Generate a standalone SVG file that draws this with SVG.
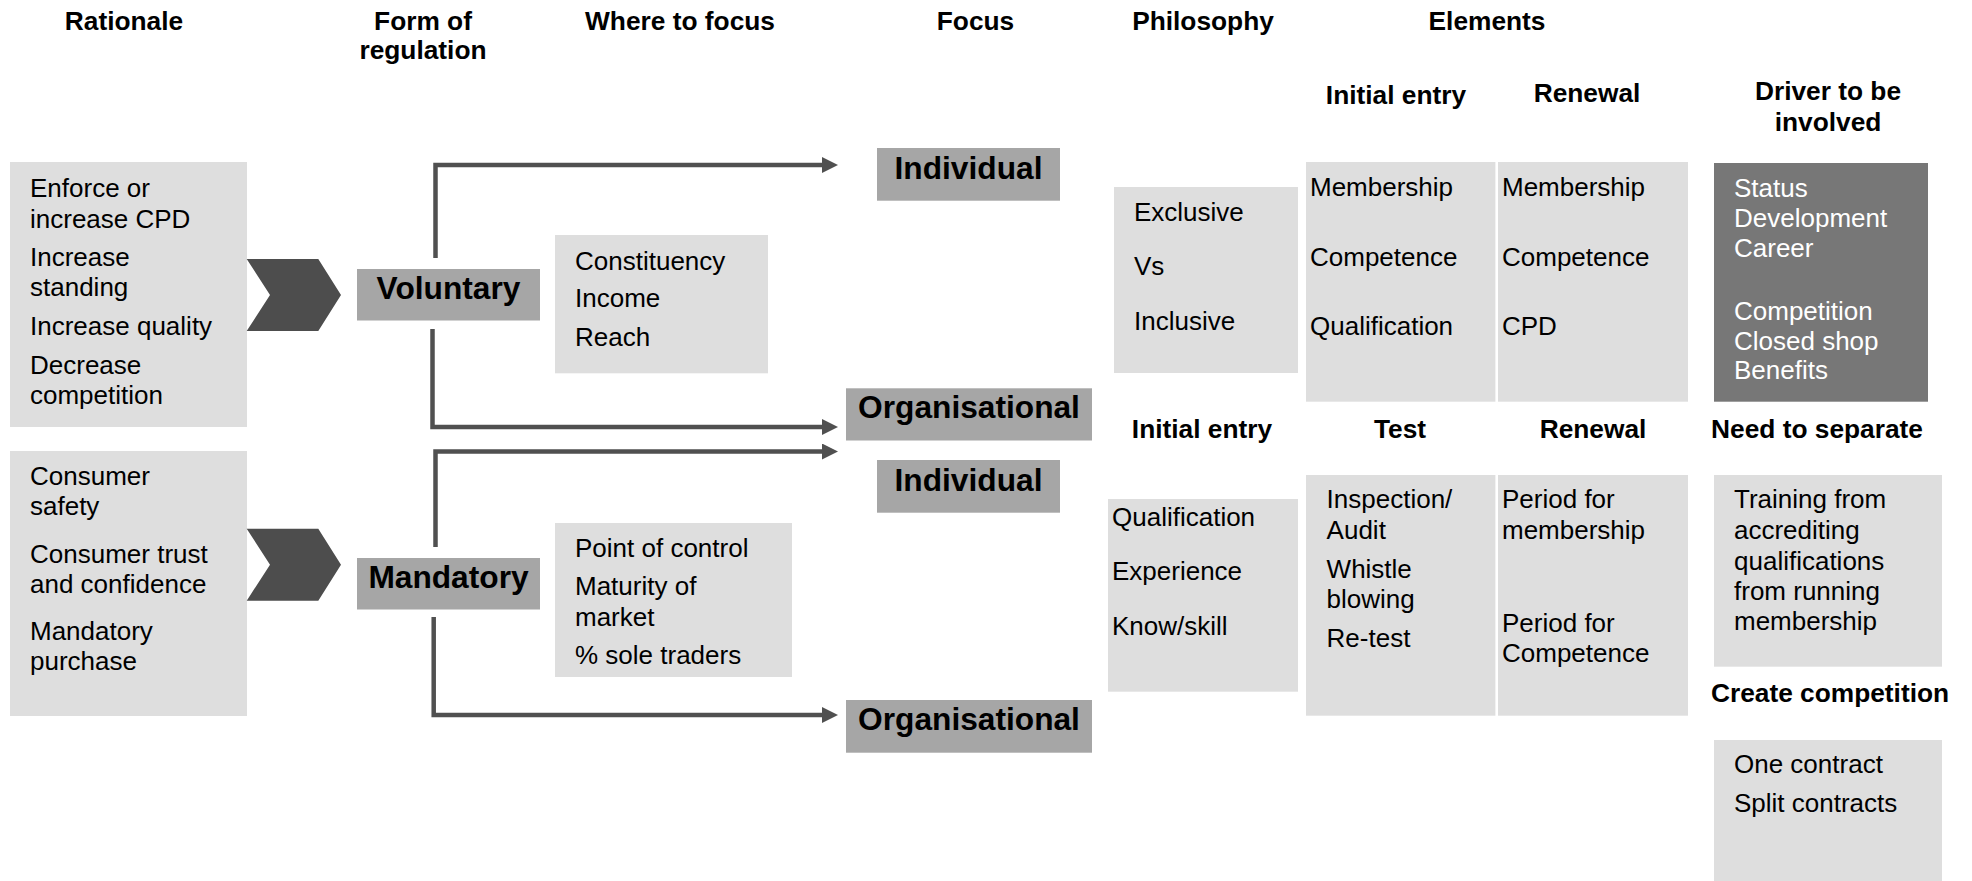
<svg xmlns="http://www.w3.org/2000/svg" width="1972" height="881" viewBox="0 0 1972 881">
<style>
text{font-family:"Liberation Sans",Arial,sans-serif;fill:#000}
.h{font-size:26.3px;font-weight:bold;text-anchor:middle}
.t{font-size:26px}
.w{font-size:26px;fill:#fff}
.big{font-size:31.7px;font-weight:bold;text-anchor:middle}
.lg{fill:#dedede}
.mg{fill:#a6a6a6}
.dg{fill:#777777}
.chev{fill:#4d4d4d}
.con{fill:none;stroke:#505050;stroke-width:4.5}
</style>
<defs>
<marker id="ah" markerUnits="userSpaceOnUse" markerWidth="16" markerHeight="16" viewBox="0 0 16 16" refX="0" refY="8" orient="auto">
<path d="M0,0 L16,8 L0,16 z" fill="#505050"/>
</marker>
</defs>
<rect width="1972" height="881" fill="#fff"/>

<g id="headers">
<text class="h" x="124" y="30">Rationale</text>
<text class="h" x="423" y="29.5">Form of</text>
<text class="h" x="423" y="58.5">regulation</text>
<text class="h" x="680" y="30">Where to focus</text>
<text class="h" x="975.5" y="30">Focus</text>
<text class="h" x="1203" y="30">Philosophy</text>
<text class="h" x="1487" y="30">Elements</text>
<text class="h" x="1396" y="104">Initial entry</text>
<text class="h" x="1587" y="101.5">Renewal</text>
<text class="h" x="1828" y="100">Driver to be</text>
<text class="h" x="1828" y="130.5">involved</text>
<text class="h" x="1202" y="437.5">Initial entry</text>
<text class="h" x="1400" y="437.5">Test</text>
<text class="h" x="1593" y="437.5">Renewal</text>
<text class="h" x="1817" y="437.5">Need to separate</text>
<text class="h" x="1830" y="701.7">Create competition</text>
</g>

<g id="connectors">
<path class="con" d="M435.5,258 V165 H822" marker-end="url(#ah)"/>
<path class="con" d="M432.5,329 V427 H822" marker-end="url(#ah)"/>
<path class="con" d="M435.5,547 V451.5 H822" marker-end="url(#ah)"/>
<path class="con" d="M433.7,617 V715 H822" marker-end="url(#ah)"/>
</g>

<g id="rationale1">
<rect class="lg" x="10" y="162" width="237" height="265"/>
<text class="t" x="30" y="197">Enforce or</text>
<text class="t" x="30" y="228">increase CPD</text>
<text class="t" x="30" y="266">Increase</text>
<text class="t" x="30" y="296">standing</text>
<text class="t" x="30" y="335">Increase quality</text>
<text class="t" x="30" y="374">Decrease</text>
<text class="t" x="30" y="404">competition</text>
</g>
<g id="rationale2">
<rect class="lg" x="10" y="451" width="237" height="265"/>
<text class="t" x="30" y="485">Consumer</text>
<text class="t" x="30" y="515">safety</text>
<text class="t" x="30" y="563">Consumer trust</text>
<text class="t" x="30" y="593">and confidence</text>
<text class="t" x="30" y="640">Mandatory</text>
<text class="t" x="30" y="670">purchase</text>
</g>
<g id="chevron1"><polygon class="chev" points="246.7,259 318.3,259 341,295 318.3,331 246.7,331 270,295"/></g>
<g id="chevron2"><polygon class="chev" points="246.7,528.7 318.3,528.7 341,564.7 318.3,600.7 246.7,600.7 270,564.7"/></g>

<g id="voluntary">
<rect class="mg" x="357" y="269" width="183" height="51.5"/>
<text class="big" x="448.5" y="299">Voluntary</text>
</g>
<g id="mandatory">
<rect class="mg" x="357" y="558" width="183" height="51.5"/>
<text class="big" x="448.5" y="588">Mandatory</text>
</g>

<g id="focus-voluntary">
<rect class="lg" x="555" y="235" width="213" height="138.3"/>
<text class="t" x="575" y="270">Constituency</text>
<text class="t" x="575" y="307.3">Income</text>
<text class="t" x="575" y="345.7">Reach</text>
</g>
<g id="focus-mandatory">
<rect class="lg" x="555" y="523" width="237" height="154"/>
<text class="t" x="575" y="556.7">Point of control</text>
<text class="t" x="575" y="595">Maturity of</text>
<text class="t" x="575" y="626">market</text>
<text class="t" x="575" y="664">% sole traders</text>
</g>

<g id="individual1">
<rect class="mg" x="877" y="148" width="183" height="52.7"/>
<text class="big" x="968.5" y="179">Individual</text>
</g>
<g id="organisational1">
<rect class="mg" x="846" y="388.3" width="246" height="52.2"/>
<text class="big" x="969" y="418.3">Organisational</text>
</g>
<g id="individual2">
<rect class="mg" x="877" y="460" width="183" height="52.7"/>
<text class="big" x="968.5" y="490.7">Individual</text>
</g>
<g id="organisational2">
<rect class="mg" x="846" y="700" width="246" height="52.7"/>
<text class="big" x="969" y="730">Organisational</text>
</g>

<g id="philosophy">
<rect class="lg" x="1114" y="187" width="184" height="186"/>
<text class="t" x="1134" y="220.7">Exclusive</text>
<text class="t" x="1134" y="275">Vs</text>
<text class="t" x="1134" y="330">Inclusive</text>
</g>
<g id="initial-entry-2">
<rect class="lg" x="1108" y="499" width="190" height="192.7"/>
<text class="t" x="1112" y="526">Qualification</text>
<text class="t" x="1112" y="580">Experience</text>
<text class="t" x="1112" y="635">Know/skill</text>
</g>

<g id="elements-initial">
<rect class="lg" x="1306" y="162" width="189.4" height="239.7"/>
<text class="t" x="1310" y="196">Membership</text>
<text class="t" x="1310" y="265.7">Competence</text>
<text class="t" x="1310" y="335">Qualification</text>
</g>
<g id="elements-renewal">
<rect class="lg" x="1498" y="162" width="190" height="239.7"/>
<text class="t" x="1502" y="196">Membership</text>
<text class="t" x="1502" y="265.7">Competence</text>
<text class="t" x="1502" y="335">CPD</text>
</g>
<g id="driver">
<rect class="dg" x="1714" y="163" width="214" height="238.7"/>
<text class="w" x="1734" y="196.7">Status</text>
<text class="w" x="1734" y="226.7">Development</text>
<text class="w" x="1734" y="257.3">Career</text>
<text class="w" x="1734" y="320">Competition</text>
<text class="w" x="1734" y="350">Closed shop</text>
<text class="w" x="1734" y="379.3">Benefits</text>
</g>

<g id="test">
<rect class="lg" x="1306" y="475" width="189.4" height="240.7"/>
<text class="t" x="1326.6" y="508.3">Inspection/</text>
<text class="t" x="1326.6" y="539.3">Audit</text>
<text class="t" x="1326.6" y="578.3">Whistle</text>
<text class="t" x="1326.6" y="608.3">blowing</text>
<text class="t" x="1326.6" y="646.7">Re-test</text>
</g>
<g id="renewal-2">
<rect class="lg" x="1498" y="475" width="190" height="240.7"/>
<text class="t" x="1502" y="508.3">Period for</text>
<text class="t" x="1502" y="539.3">membership</text>
<text class="t" x="1502" y="631.7">Period for</text>
<text class="t" x="1502" y="661.7">Competence</text>
</g>
<g id="need-to-separate">
<rect class="lg" x="1714" y="475" width="228" height="191.7"/>
<text class="t" x="1734" y="508.3">Training from</text>
<text class="t" x="1734" y="539.3">accrediting</text>
<text class="t" x="1734" y="570">qualifications</text>
<text class="t" x="1734" y="600">from running</text>
<text class="t" x="1734" y="630">membership</text>
</g>
<g id="create-competition">
<rect class="lg" x="1714" y="740" width="228" height="141"/>
<text class="t" x="1734" y="773">One contract</text>
<text class="t" x="1734" y="811.7">Split contracts</text>
</g>
</svg>
